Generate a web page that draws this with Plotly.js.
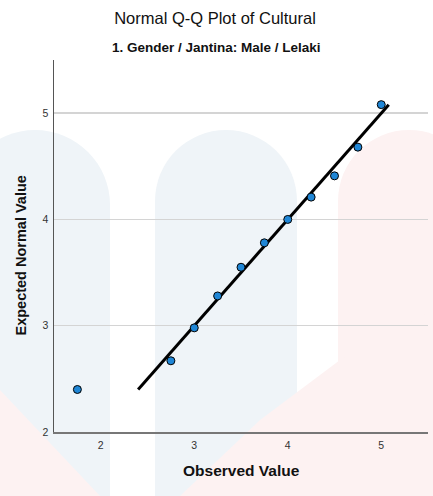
<!DOCTYPE html>
<html>
<head>
<meta charset="utf-8">
<script src="https://cdn.plot.ly/plotly-3.0.1.min.js"></script>
<style>
  html, body { margin:0; padding:0; background:#ffffff; }
  #wrap { position:relative; width:433px; height:496px; overflow:hidden; }
  .wm { position:absolute; }
  #chart { position:absolute; left:0; top:0; width:433px; height:496px; }
</style>
</head>
<body>
<div id="wrap">
  <div class="wm" style="left:-40px; top:130px; width:150px; height:400px; background:#eff4f8; border-radius:75px 75px 0 0;"></div>
  <div class="wm" style="left:155px; top:130px; width:142px; height:400px; background:#eff4f8; border-radius:71px 71px 0 0;"></div>
  <div class="wm" style="left:338px; top:130px; width:142px; height:400px; background:#fdf2f2; border-radius:71px 71px 0 0;"></div>
  <div class="wm" style="left:0; top:0; width:433px; height:496px; background:#fdf2f2; clip-path:polygon(180px 496px, 260px 420px, 340px 360px, 433px 310px, 433px 496px);"></div>
  <div class="wm" style="left:0; top:0; width:433px; height:496px; background:#fdf2f2; clip-path:polygon(0px 390px, 100px 496px, 0px 496px);"></div>
  <div id="chart"></div>
</div>
<script>
// Data
var observed = [1.75, 2.75, 3.00, 3.25, 3.50, 3.75, 4.00, 4.25, 4.50, 4.75, 5.00];
var expected = [2.40, 2.67, 2.98, 3.28, 3.55, 3.78, 4.00, 4.21, 4.41, 4.68, 5.08];
var lineX = [2.40, 5.08];
var lineY = [2.40, 5.08];
var xTicks = [2, 3, 4, 5];
var yTicks = [2, 3, 4, 5];

var traces = [
  {
    x: lineX, y: lineY, type: 'scatter', mode: 'lines',
    line: {color: '#000000', width: 3},
    hoverinfo: 'skip', showlegend: false
  },
  {
    x: observed, y: expected, type: 'scatter', mode: 'markers',
    marker: {size: 8, color: '#1f86d6', line: {color: '#000000', width: 1}},
    showlegend: false
  }
];

var layout = {
  width: 433, height: 496,
  margin: {l: 54, r: 5, t: 60, b: 64},
  paper_bgcolor: 'rgba(0,0,0,0)',
  plot_bgcolor: 'rgba(0,0,0,0)',
  font: {family: 'Liberation Sans, Arial, sans-serif', color: '#222222'},
  title: {
    text: 'Normal Q-Q Plot of Cultural',
    font: {size: 16.5, color: '#111111', family: 'Liberation Sans, Arial, sans-serif'},
    x: 215 / 433, xanchor: 'center', xref: 'container',
    y: 1 - 18/496, yanchor: 'middle', yref: 'container'
  },
  annotations: [
    {
      text: '<b>1. Gender / Jantina: Male / Lelaki</b>',
      xref: 'paper', yref: 'paper', x: (216 - 54) / 374, y: 1 + (60 - 47) / 372,
      xanchor: 'center', yanchor: 'middle', showarrow: false,
      font: {size: 13.5, color: '#111111'}
    },
    {
      text: '<b>Observed Value</b>',
      xref: 'paper', yref: 'paper', x: (241 - 54) / 374, y: (432 - 471) / 372,
      xanchor: 'center', yanchor: 'middle', showarrow: false,
      font: {size: 15.5, color: '#111111'}
    },
    {
      text: '<b>Expected Normal Value</b>',
      xref: 'paper', yref: 'paper', x: (20 - 54) / 374, y: (432 - 255.5) / 372,
      xanchor: 'center', yanchor: 'middle', showarrow: false, textangle: -90,
      font: {size: 14.5, color: '#111111'}
    }
  ],
  xaxis: {
    range: [1.5, 5.5],
    tickvals: xTicks,
    ticks: '', ticklen: 0, ticklabelstandoff: 3,
    showgrid: false, zeroline: false,
    showline: true, linecolor: '#777777', linewidth: 1.5,
    tickfont: {size: 10.5, color: '#333333'},
    fixedrange: true
  },
  yaxis: {
    range: [2, 5.5],
    tickvals: yTicks,
    ticks: '', ticklen: 0, ticklabelstandoff: 2,
    showgrid: true, gridcolor: '#d4d4d4', gridwidth: 1.5,
    zeroline: false,
    showline: true, linecolor: '#555555', linewidth: 1.5,
    tickfont: {size: 10.5, color: '#333333'},
    fixedrange: true
  }
};

Plotly.newPlot('chart', traces, layout, {displayModeBar: false, staticPlot: true});
</script>
</body>
</html>
